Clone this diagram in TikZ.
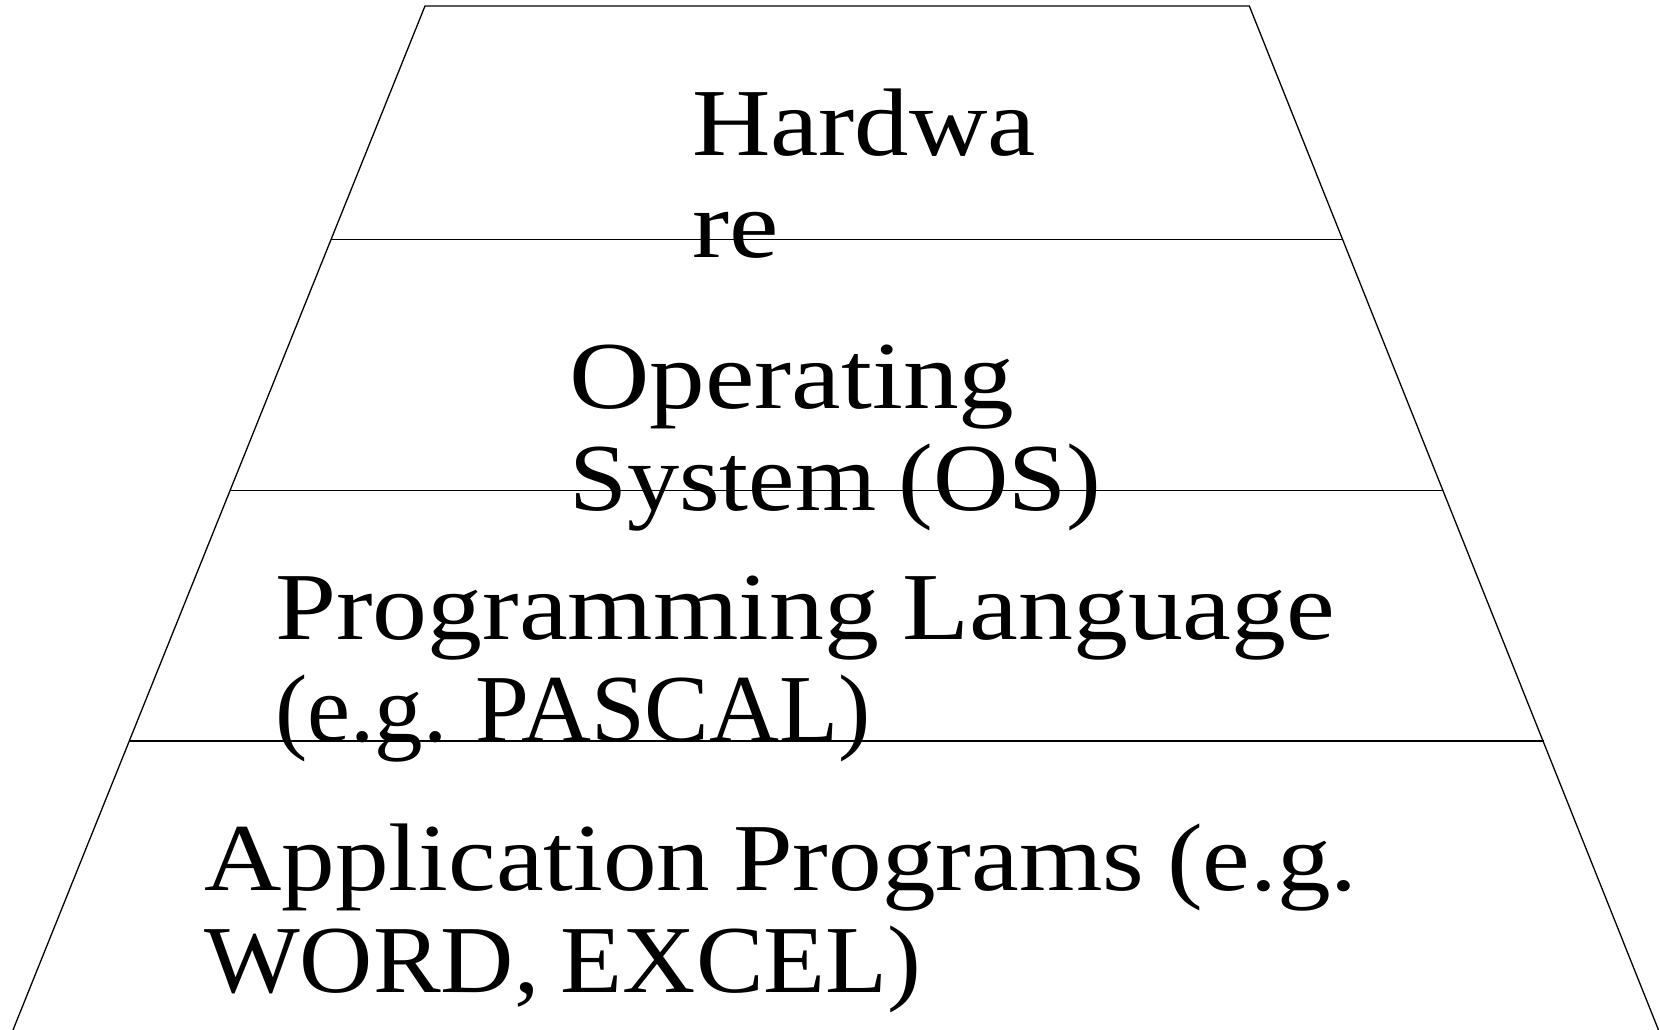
\documentclass[tikz,border=0pt]{standalone}
\usepackage{graphicx}
\usepackage{fontspec}
\setmainfont{Liberation Serif}[FakeStretch=1.16,WordSpace=0.85]
% horizontally condensed line of text
\newcommand\squeezed[2]{\scalebox{#1}[1]{#2}}
\begin{document}
\begin{tikzpicture}[x=1pt,y=-1pt,
  layer/.style={line width=1.3pt,black},
  label/.style={anchor=base west,inner sep=0pt,align=left,
    font=\fontsize{96}{102}\selectfont}]
\useasboundingbox (0,0) rectangle (1660,1030);
% outline of the stacked pyramid
\coordinate (tl) at (425,6);
\coordinate (tr) at (1249.3,6);
\coordinate (bl) at (13,1030);
\coordinate (br) at (1658.5,1030);
\draw[layer] (bl) -- (tl) -- (tr) -- (br);
% dividing lines between the layers
\coordinate (l1) at (331,239.3);   \coordinate (r1) at (1342.4,239.3);
\coordinate (l2) at (230.5,490.2); \coordinate (r2) at (1443,490.2);
\coordinate (l3) at (129.5,741.1); \coordinate (r3) at (1543.5,741.1);
\draw[layer] (l1) -- (r1);
\draw[layer] (l2) -- (r2);
\draw[layer] (l3) -- (r3);
% layer captions (anchored at the baseline of their last line)
\node[label] (hw)  at (692,257.5) {\squeezed{0.975}{Hardwa}\\re};
\node[label] (os)  at (569,510.3) {Operating\\\squeezed{0.937}{System (OS)}};
\node[label] (pl)  at (275,741.1) {\squeezed{0.986}{Programming Language}\\\squeezed{0.87}{(e.g. PASCAL)}};
\node[label] (app) at (204,992) {\squeezed{0.963}{Application Programs (e.g.}\\\squeezed{0.911}{WORD, EXCEL)}};
\end{tikzpicture}
\end{document}
